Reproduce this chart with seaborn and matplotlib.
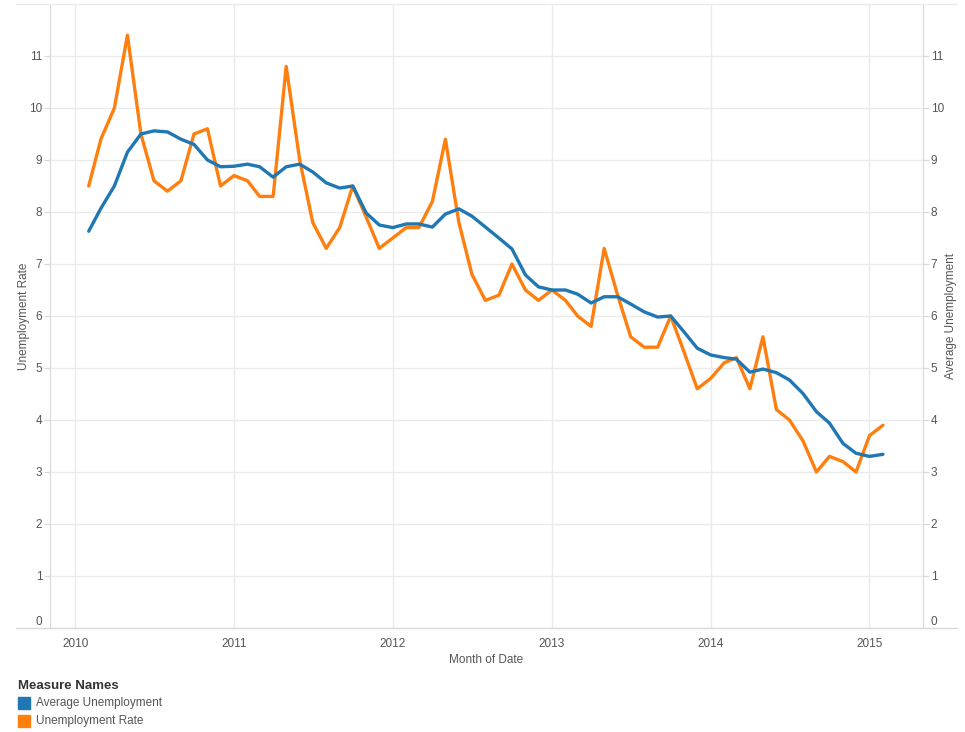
import pandas as pd
import seaborn as sns
import matplotlib.pyplot as plt
import matplotlib.dates as mdates
from matplotlib.patches import Rectangle
from matplotlib.lines import Line2D

# monthly values (Feb 2010 .. Feb 2015)
months = pd.date_range('2010-02-01', periods=61, freq='MS')

unemployment_rate = [
    8.5, 9.4, 10.0, 11.4, 9.5, 8.6, 8.4, 8.6, 9.5, 9.6, 8.5,
    8.7, 8.6, 8.3, 8.3, 10.8, 9.0, 7.8, 7.3, 7.7, 8.5, 7.9, 7.3,
    7.5, 7.7, 7.7, 8.2, 9.4, 7.8, 6.8, 6.3, 6.4, 7.0, 6.5, 6.3,
    6.5, 6.3, 6.0, 5.8, 7.3, 6.4, 5.6, 5.4, 5.4, 6.0, 5.3, 4.6,
    4.8, 5.1, 5.2, 4.6, 5.6, 4.2, 4.0, 3.6, 3.0, 3.3, 3.2, 3.0,
    3.7, 3.9,
]

average_unemployment = [
    7.63, 8.07, 8.5, 9.15, 9.5, 9.56, 9.54, 9.4, 9.3, 9.0, 8.87,
    8.88, 8.92, 8.87, 8.67, 8.87, 8.92, 8.77, 8.56, 8.46, 8.5, 7.98, 7.75,
    7.7, 7.77, 7.77, 7.71, 7.96, 8.06, 7.92, 7.71, 7.5, 7.29, 6.79, 6.56,
    6.5, 6.5, 6.42, 6.25, 6.37, 6.37, 6.23, 6.08, 5.98, 6.0, 5.69, 5.38,
    5.25, 5.2, 5.17, 4.92, 4.98, 4.91, 4.77, 4.51, 4.16, 3.94, 3.55, 3.36,
    3.3, 3.34,
]

measure_names = ['Average Unemployment', 'Unemployment Rate']
colors = {'Average Unemployment': '#1f77b4', 'Unemployment Rate': '#ff7f0e'}

df = pd.DataFrame({'Date': months,
                   'Unemployment Rate': unemployment_rate,
                   'Average Unemployment': average_unemployment})

sns.set_style('white')
plt.rcParams['font.family'] = ['Liberation Sans', 'DejaVu Sans']

W, H = 965, 732
fig = plt.figure(figsize=(W / 100, H / 100), dpi=100)
ax = fig.add_axes([50 / W, 1 - 628 / H, (923 - 50) / W, (628 - 4) / H])

grid_c = '#ebebeb'
axis_c = '#d9d9d9'
text_c = '#555555'

sns.lineplot(data=df, x='Date', y='Unemployment Rate', ax=ax,
             color=colors['Unemployment Rate'], linewidth=2.4, zorder=3)

ax2 = ax.twinx()
sns.lineplot(data=df, x='Date', y='Average Unemployment', ax=ax2,
             color=colors['Average Unemployment'], linewidth=2.4, zorder=4)

for a in (ax, ax2):
    a.set_ylim(0, 12)
    a.set_yticks(range(0, 12))
    a.set_xlim(pd.Timestamp('2009-11-04'), pd.Timestamp('2015-05-04'))
    a.tick_params(axis='y', labelsize=8.5, colors=axis_c, labelcolor=text_c,
                  length=4, width=0.8, pad=1.5)
    for s in a.spines.values():
        s.set_visible(False)
    # Tableau keeps the zero label inside the pane
    a.get_yticklabels()[0].set_va('bottom')

ax.spines['left'].set_visible(True)
ax.spines['left'].set_color(axis_c)
ax2.spines['right'].set_visible(True)
ax2.spines['right'].set_color(axis_c)

ax.yaxis.grid(True, color=grid_c, linewidth=1)
ax.xaxis.grid(True, which='major', color=grid_c, linewidth=1)
ax.set_axisbelow(True)

ax.xaxis.set_major_locator(mdates.YearLocator())
ax.xaxis.set_major_formatter(mdates.DateFormatter('%Y'))
ax.xaxis.set_minor_locator(mdates.MonthLocator())
ax.tick_params(axis='x', which='major', labelsize=8.5, colors=axis_c,
               labelcolor=text_c, length=4, width=0.8, pad=3)
ax.tick_params(axis='x', which='minor', colors=axis_c, length=3, width=0.8)
ax2.tick_params(axis='x', which='both', bottom=False, labelbottom=False)

ax.set_xlabel('Month of Date', fontsize=8.5, color=text_c, labelpad=3)
ax.set_ylabel('Unemployment Rate', fontsize=8.5, color=text_c, labelpad=-1)
ax2.set_ylabel('Average Unemployment', fontsize=8.5, color=text_c, labelpad=1)

# Tableau-style pane borders spanning the view
fig.add_artist(Line2D([16 / W, 957 / W], [1 - 628 / H] * 2, color=axis_c, lw=1))
fig.add_artist(Line2D([16 / W, 957 / W], [1 - 4 / H] * 2, color=grid_c, lw=1))

# legend
fig.text(18 / W, 1 - 686 / H, 'Measure Names', fontsize=9.5, fontweight='bold',
         color='#333333', va='center', ha='left')
for i, name in enumerate(measure_names):
    yc = 703 + 18 * i
    fig.add_artist(Rectangle((18 / W, 1 - (yc + 6) / H), 12 / W, 12 / H,
                             color=colors[name], transform=fig.transFigure))
    fig.text(36 / W, 1 - yc / H, name, fontsize=8.5, color=text_c,
             va='center', ha='left')

fig.savefig('out.png', dpi=100)
